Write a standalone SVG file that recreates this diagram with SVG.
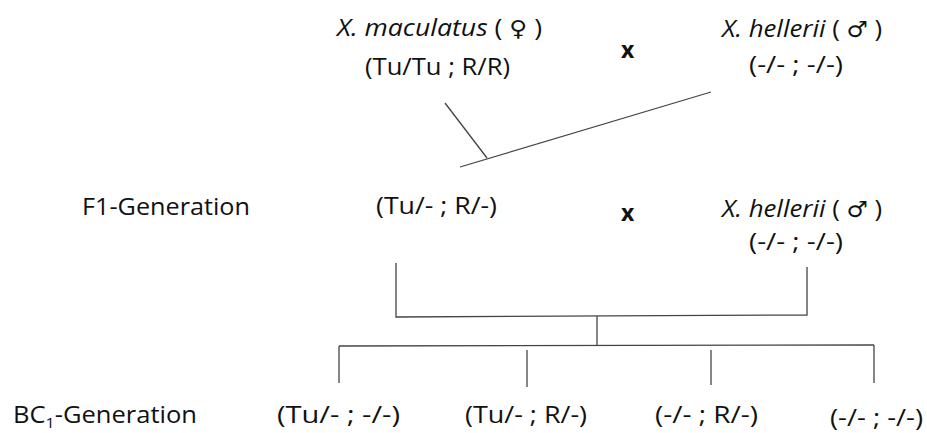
<svg xmlns="http://www.w3.org/2000/svg" width="927" height="433" viewBox="0 0 927 433">
<style>
text{font-family:"Open Sans","Noto Sans","DejaVu Sans",sans-serif;font-size:24px;fill:#111}
.i{font-style:italic}
.x{font-weight:bold;font-size:23px}
.sym{font-family:"DejaVu Sans",sans-serif;font-size:22px}
.c line,.c polyline{stroke:#444;stroke-width:1.3;fill:none}
</style>
<rect width="927" height="433" fill="#fff"/>
<g id="p-maculatus">
<text x="337" y="36" textLength="205" lengthAdjust="spacingAndGlyphs"><tspan class="i">X. maculatus</tspan> ( <tspan class="sym">♀</tspan> )</text>
<text x="365" y="75" textLength="145" lengthAdjust="spacingAndGlyphs">(Tu/Tu ; R/R)</text>
</g>
<g id="cross1"><text class="x" x="621" y="58">x</text></g>
<g id="p-hellerii">
<text x="722" y="37" textLength="160" lengthAdjust="spacingAndGlyphs"><tspan class="i">X. hellerii</tspan> ( <tspan class="sym">♂</tspan> )</text>
<text x="749" y="73" textLength="94" lengthAdjust="spacingAndGlyphs">(-/- ; -/-)</text>
</g>
<g id="label-f1"><text x="82" y="215" textLength="168" lengthAdjust="spacingAndGlyphs">F1-Generation</text></g>
<g id="f1"><text x="376" y="214" textLength="121" lengthAdjust="spacingAndGlyphs">(Tu/- ; R/-)</text></g>
<g id="cross2"><text class="x" x="621" y="221">x</text></g>
<g id="b-hellerii">
<text x="722" y="217" textLength="160" lengthAdjust="spacingAndGlyphs"><tspan class="i">X. hellerii</tspan> ( <tspan class="sym">♂</tspan> )</text>
<text x="749" y="250" textLength="94" lengthAdjust="spacingAndGlyphs">(-/- ; -/-)</text>
</g>
<g id="label-bc1"><text x="13" y="423" textLength="184" lengthAdjust="spacingAndGlyphs">BC<tspan font-size="15" dy="5">1</tspan><tspan dy="-5">-Generation</tspan></text></g>
<g id="bc-1"><text x="277" y="423" textLength="123" lengthAdjust="spacingAndGlyphs">(Tu/- ; -/-)</text></g>
<g id="bc-2"><text x="465" y="423" textLength="122" lengthAdjust="spacingAndGlyphs">(Tu/- ; R/-)</text></g>
<g id="bc-3"><text x="655" y="423" textLength="103" lengthAdjust="spacingAndGlyphs">(-/- ; R/-)</text></g>
<g id="bc-4"><text x="830" y="426" textLength="93" lengthAdjust="spacingAndGlyphs">(-/- ; -/-)</text></g>
<g class="c" id="connectors">
<line x1="445" y1="103" x2="487" y2="158"/>
<line x1="460" y1="167" x2="711" y2="92"/>
<polyline points="396,263 396,317 807,315 807,267"/>
<line x1="597" y1="316" x2="597" y2="345"/>
<line x1="339" y1="346" x2="874" y2="345"/>
<line x1="339" y1="346" x2="339" y2="383"/>
<line x1="527" y1="350" x2="527" y2="387"/>
<line x1="711" y1="350" x2="711" y2="385"/>
<line x1="874" y1="345" x2="874" y2="383"/>
</g>
</svg>
